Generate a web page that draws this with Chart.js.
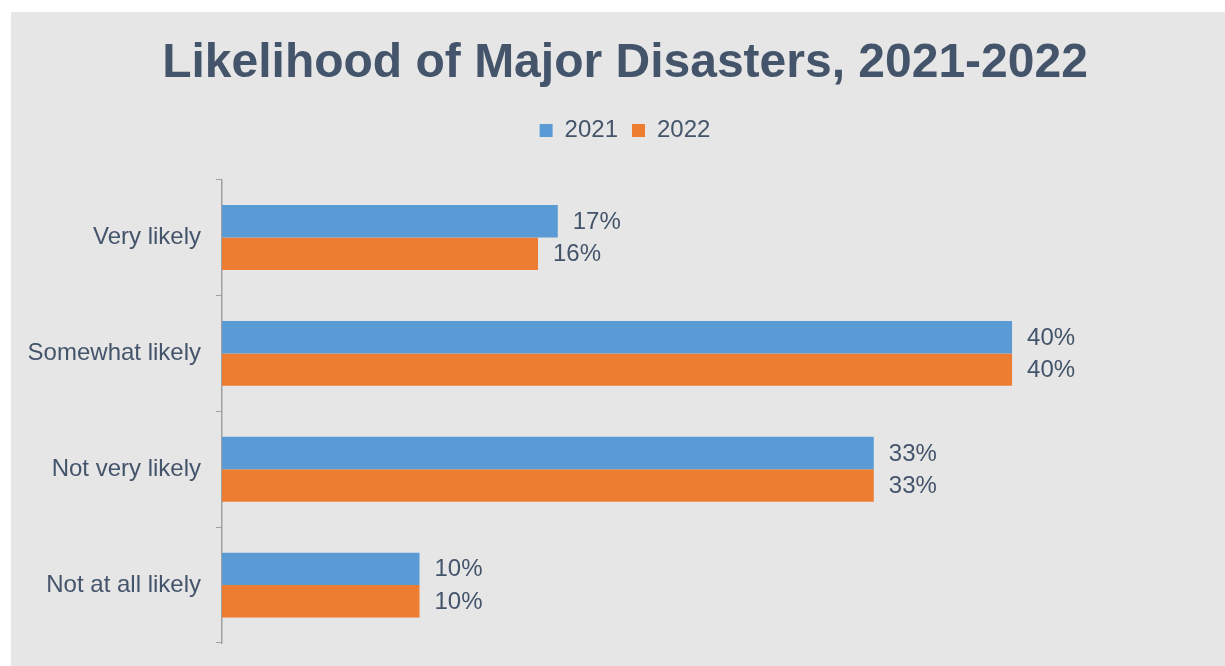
<!DOCTYPE html>
<html lang="en">
<head>
    <meta charset="UTF-8">
    <title>Likelihood of Major Disasters</title>
    <style>
        body { margin: 0; background: #ffffff; overflow: hidden; }
        #wrap { position: absolute; left: 11px; top: 12px; width: 1214px; height: 654px; background: #e6e6e6; }
    </style>
</head>
<body>
    <div id="wrap">
        <canvas id="myChart" width="1214" height="654"></canvas>
    </div>

    <script src="https://cdn.jsdelivr.net/npm/chart.js"></script>

    <script>
        const ctx = document.getElementById('myChart');

        // categories and values (percent)
        const categories = ['Very likely', 'Somewhat likely', 'Not very likely', 'Not at all likely'];
        const years = ['2021', '2022'];
        const values2021 = [17, 40, 33, 10];
        const values2022 = [16, 40, 33, 10];

        const textColor = '#44546a';
        const font = 'Arial, "Liberation Sans", sans-serif';

        // value labels to the right of each bar
        const barLabels = {
            id: 'barLabels',
            afterDatasetsDraw(chart) {
                const c = chart.ctx;
                c.save();
                c.fillStyle = textColor;
                c.font = '24px ' + font;
                c.textAlign = 'left';
                c.textBaseline = 'middle';
                chart.data.datasets.forEach((ds, i) => {
                    chart.getDatasetMeta(i).data.forEach((bar, j) => {
                        c.fillText(ds.data[j] + '%', bar.x + 15, bar.y + 1);
                    });
                });
                c.restore();
            }
        };

        // extra room under the legend
        const legendGap = {
            id: 'legendGap',
            beforeInit(chart) {
                const fit = chart.legend.fit;
                chart.legend.fit = function () {
                    fit.bind(chart.legend)();
                    this.height += 27;
                };
            }
        };

        new Chart(ctx, {
            type: 'bar',
            data: {
                labels: categories,
                datasets: [{
                    label: years[0],
                    data: values2021,
                    backgroundColor: '#5b9bd5',
                    barPercentage: 1,
                    categoryPercentage: 0.56
                }, {
                    label: years[1],
                    data: values2022,
                    backgroundColor: '#ed7d31',
                    barPercentage: 1,
                    categoryPercentage: 0.56
                }]
            },
            options: {
                indexAxis: 'y',
                responsive: false,
                animation: false,
                layout: { padding: { left: 18, right: 4, top: 0, bottom: 23 } },
                plugins: {
                    title: {
                        display: true,
                        text: 'Likelihood of Major Disasters, 2021-2022',
                        color: textColor,
                        font: { family: font, size: 48, weight: 'bold' },
                        padding: { top: 23, bottom: 12 }
                    },
                    legend: {
                        labels: {
                            color: textColor,
                            font: { family: font, size: 24 },
                            boxWidth: 13,
                            boxHeight: 13,
                            padding: 14
                        }
                    },
                    tooltip: { enabled: false }
                },
                scales: {
                    x: {
                        display: false,
                        min: 0,
                        max: 50.58
                    },
                    y: {
                        afterFit(scale) {
                            scale.width = 193;
                            scale.paddingTop = 0;
                            scale.paddingBottom = 0;
                        },
                        grid: {
                            offset: true,
                            drawOnChartArea: false,
                            tickLength: 6,
                            color: '#a0a0a0'
                        },
                        border: { display: true, color: '#a0a0a0', width: 1.5 },
                        ticks: {
                            color: textColor,
                            font: { family: font, size: 24 },
                            padding: 15
                        }
                    }
                }
            },
            plugins: [barLabels, legendGap]
        });
    </script>
</body>
</html>
